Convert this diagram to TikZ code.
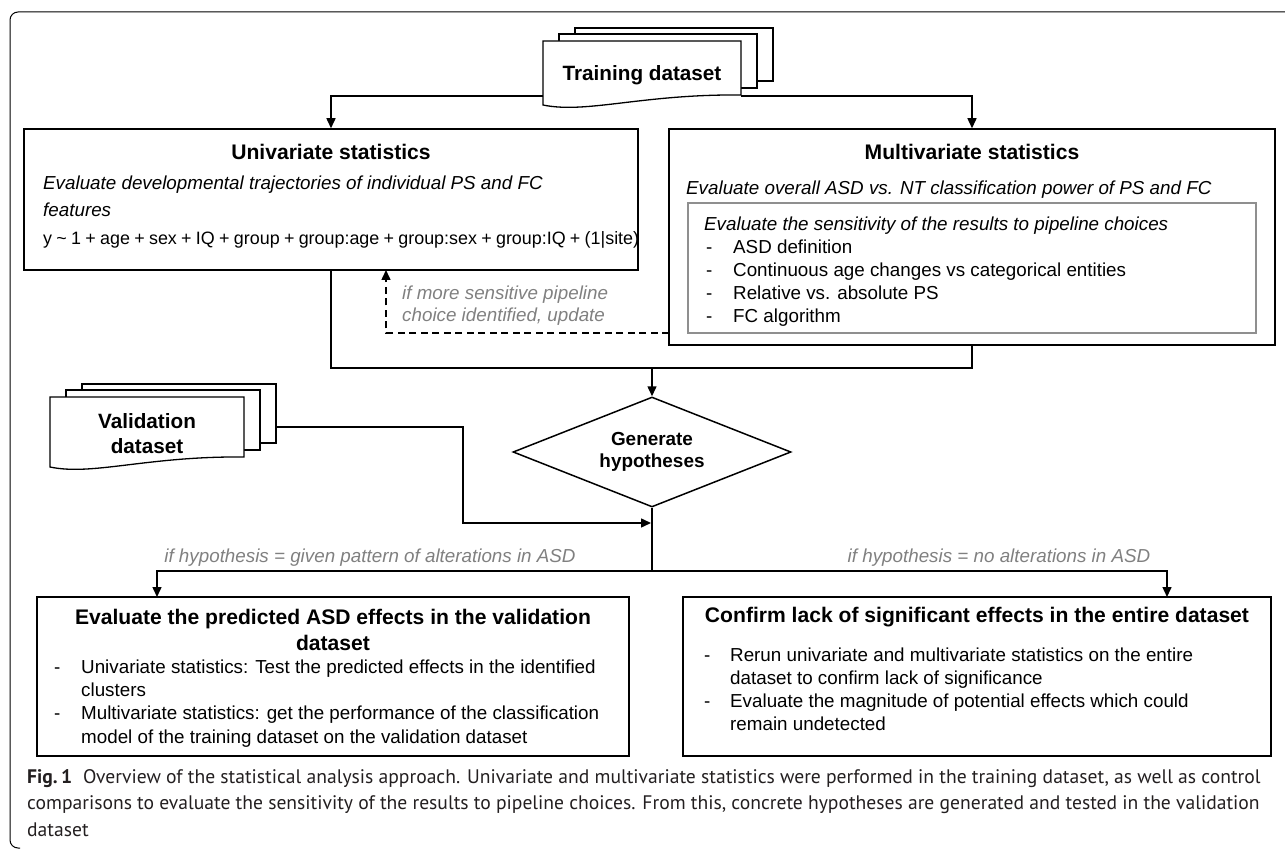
\documentclass[tikz,border=0pt]{standalone}
\usepackage{fontspec}
\setmainfont{Liberation Sans}
\newfontfamily\capfont{PT Sans}
\usetikzlibrary{shapes.geometric,arrows.meta}
\definecolor{notegray}{HTML}{808080}
\definecolor{choicegray}{HTML}{8F8F8F}
\definecolor{captext}{HTML}{231F20}

% stack of three pages, front page with a wavy bottom: x, y, w, h of the front page
\newcommand{\docstack}[4]{%
  \draw[docpage] (#1+32,#2-13) rectangle ++(#3,#4-1);
  \draw[docpage] (#1+16,#2-7) rectangle ++(#3,#4);
  \draw[docpage] (#1,#2) -- ++(#3,0) -- ++(0,#4)
    .. controls +(-0.5*#3,-1) and +(0.22*#3,9) .. ++(-#3,10) -- cycle;
}

\begin{document}
\begin{tikzpicture}[x=1pt, y=-1pt,
    docpage/.style={draw, fill=white, line width=1.3pt},
    box/.style={draw, line width=1.5pt, inner sep=0},
    choicebox/.style={draw=choicegray, line width=1.6pt, inner sep=0},
    arr/.style={-{Triangle[length=10pt,width=9pt]}, line width=1.5pt},
    dasharr/.style={arr, dash pattern=on 7pt off 4.5pt},
    title/.style={font=\bfseries\fontsize{21.1}{26}\selectfont, inner sep=0},
    doctext/.style={font=\bfseries\fontsize{20.7}{25}\selectfont, inner sep=0, align=center},
    body/.style={font=\fontsize{18.8}{23}\selectfont, inner sep=0, anchor=west,
      text height=14pt, text depth=1pt},
    note/.style={font=\itshape\fontsize{18.8}{22}\selectfont, text=notegray, inner sep=0},
    captext/.style={font=\capfont\fontsize{19.6}{26}\selectfont, text=captext, inner sep=0, anchor=west,
      text height=14pt, text depth=1pt}]
  \useasboundingbox (0,0) rectangle (1285,850);
  % frame
  \draw[line width=1pt, rounded corners=8pt] (1290,12) -- (10,12) -- (10,848) -- (20,848);

  % datasets
  \docstack{543}{41}{198}{54}
  \node[doctext] (train) at (642,75) {Training dataset};
  \coordinate (trainL) at (543,96);
  \coordinate (trainR) at (741,96);
  \docstack{50}{397}{194}{60}
  \node[doctext] (valid) at (147,433.5) {Validation\\dataset};
  \coordinate (validR) at (275,427);

  % univariate
  \node[box, minimum width=614, minimum height=141] (uni) at (331,199.5) {};
  \node[title] (unititle) at (331,152) {Univariate statistics};
  \node[body] (unidesc) at (43,183) {\itshape Evaluate developmental trajectories of individual PS and FC};
  \node[body] (unifeat) at (43,210) {\itshape features};
  \node[body, font=\fontsize{17.9}{23}\selectfont] (uniform) at (43,238)
    {\spaceskip=0.24em plus 0.1em\relax y \textasciitilde{} 1 + age + sex + IQ + group + group:age + group:sex + group:IQ + (1|site)};

  % multivariate
  \node[box, minimum width=606, minimum height=216] (multi) at (972,237) {};
  \node[title] (multititle) at (972,152) {Multivariate statistics};
  \node[body] (multidesc) at (686,188) {\itshape Evaluate overall ASD vs. NT classification power of PS and FC};
  \node[choicebox, minimum width=568, minimum height=130] (choices) at (972,268) {};
  \node[body] (choicehead) at (704,224) {\itshape Evaluate the sensitivity of the results to pipeline choices};
  \foreach \t [count=\i] in {ASD definition, Continuous age changes vs categorical entities,
      Relative vs. absolute PS, FC algorithm} {
    \node[body] (cdash\i) at (706,224+23*\i) {-};
    \node[body] (citem\i) at (733,224+23*\i) {\t};
  }

  % training to the two analyses
  \draw[arr] (trainL) -| (uni.north);
  \draw[arr] (trainR) -| (multi.north);

  % feedback
  \coordinate (dashS) at (669,333);
  \coordinate (dashE) at (386,270);
  \draw[dasharr] (dashS) -| (dashE);
  \node[note, anchor=west, align=left] (pipenote) at (402,306) {if more sensitive pipeline\\choice identified, update};

  % hypotheses
  \node[diamond, draw, line width=1.5pt, aspect=2.5, minimum width=278, minimum height=110, inner sep=0,
    font=\bfseries\fontsize{18.9}{22}\selectfont, align=center] (hyp) at (652,452) {Generate\\hypotheses};
  \coordinate (merge) at (652,368);
  \draw[line width=1.5pt] (uni.south) |- (merge) -| (multi.south);
  \draw[arr] (merge) -- (hyp.north);
  \coordinate (hypin) at (651,523);
  \draw[arr] (validR) -| (463,523) -- (hypin);

  % outcomes
  \node[box, minimum width=592, minimum height=159] (evalbox) at (333,676.5) {};
  \node[title, align=center] (evaltitle) at (333,630) {Evaluate the predicted ASD effects in the validation\\dataset};
  \foreach \y in {667,713} \node[body] at (54,\y) {-};
  \foreach \y/\t in {667/{Univariate statistics: Test the predicted effects in the identified},
      690/{clusters}, 713/{Multivariate statistics: get the performance of the classification},
      737/{model of the training dataset on the validation dataset}}
    \node[body] (evalline\y) at (81,\y) {\t};

  \node[box, minimum width=588, minimum height=159] (confbox) at (977,676.5) {};
  \node[title] (conftitle) at (977,617) {Confirm lack of significant effects in the entire dataset};
  \foreach \y in {655,701} \node[body] at (704,\y) {-};
  \foreach \y/\t in {655/{Rerun univariate and multivariate statistics on the entire},
      678/{dataset to confirm lack of significance},
      701/{Evaluate the magnitude of potential effects which could},
      724/{remain undetected}}
    \node[body] (confline\y) at (730,\y) {\t};

  \coordinate (split) at (652,571);
  \coordinate (evalin) at (157,597);
  \coordinate (confin) at (1167,597);
  \draw[line width=1.5pt] (hyp.south) -- (split);
  \draw[arr] (split) -| (evalin);
  \draw[arr] (split) -| (confin);
  \node[note] (noteL) at (370,558) {if hypothesis = given pattern of alterations in ASD};
  \node[note] (noteR) at (999,558) {if hypothesis = no alterations in ASD};

  % caption
  \node[captext] (cap1) at (27,777) {\textbf{Fig.\,1}\hspace{11pt}Overview of the statistical analysis approach. Univariate and multivariate statistics were performed in the training dataset, as well as control};
  \node[captext] (cap2) at (27,803) {comparisons to evaluate the sensitivity of the results to pipeline choices. From this, concrete hypotheses are generated and tested in the validation};
  \node[captext] (cap3) at (27,830) {dataset};
\end{tikzpicture}
\end{document}
